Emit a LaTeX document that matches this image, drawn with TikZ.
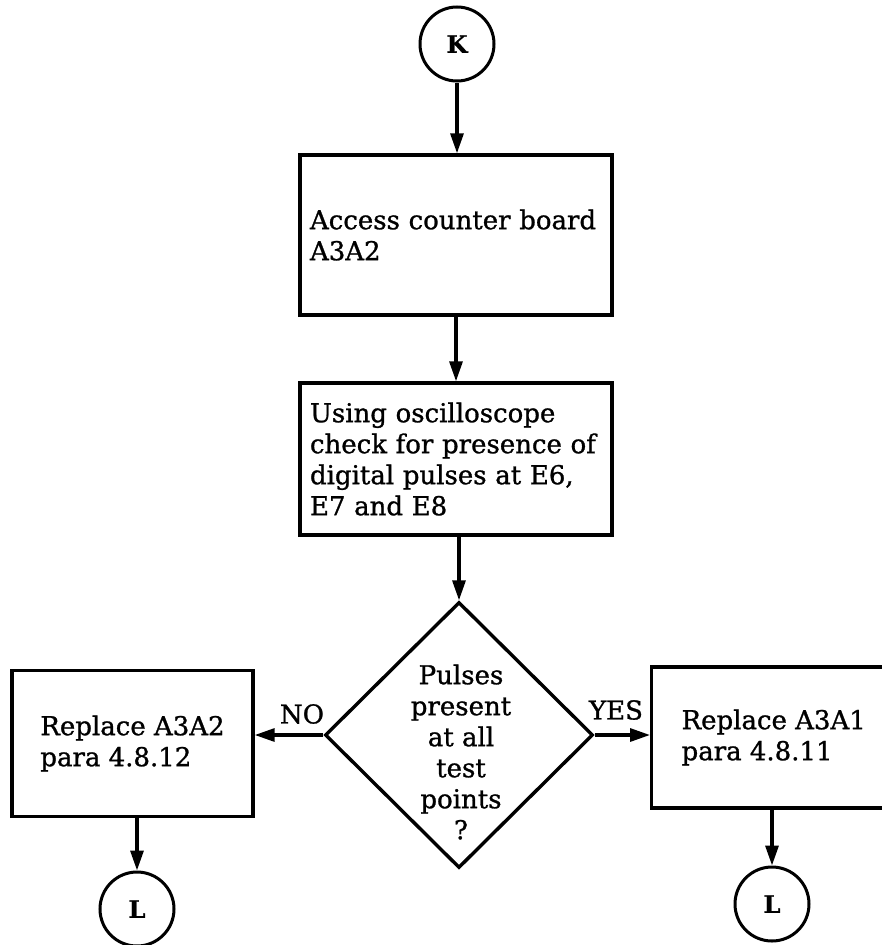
\documentclass[tikz,border=0pt]{standalone}
\usepackage{fontspec}
\setmainfont{DejaVu Serif}[FakeBold=1]
\usetikzlibrary{arrows.meta,shapes.geometric}
\begin{document}
\begin{tikzpicture}[x=1pt,y=-1pt,
  line width=3.4pt,
  txt/.style={font=\fontsize{26}{31}\selectfont},
  box/.style={draw,txt,align=left,inner sep=0pt},
  conn/.style={draw,line width=3.2pt,-{Triangle[length=20pt,width=13pt]}},
  term/.style={draw,circle,line width=3pt,minimum size=74pt,inner sep=0pt,font=\fontsize{24}{24}\selectfont\bfseries},
  lbl/.style={txt,inner sep=0pt}]
\useasboundingbox (0,0) rectangle (882,945);
\clip (0,0) rectangle (882,945);

\node[term] (k) at (457,44) {K};
\node[box,minimum width=312pt,minimum height=160pt,text width=292pt] (b1) at (456,235) {Access counter board\\A3A2};
\node[box,minimum width=312pt,minimum height=152pt,text width=292pt] (b2) at (456,459) {Using oscilloscope\\check for presence of\\digital pulses at E6,\\E7 and E8};
\node[draw,diamond,minimum width=268pt,minimum height=266pt,inner sep=0pt] (dec) at (459,735) {};
\node[txt,align=center,inner sep=0pt] (dtxt) at (461,752) {Pulses\\present\\at all\\test\\points\\?};
\node[box,minimum width=241pt,minimum height=146pt] (nb) at (132.5,743.5) {Replace A3A2\\para 4.8.12};
\node[box,minimum width=244pt,minimum height=141pt,anchor=west] (yb) at (650,737.5) {Replace A3A1\\para 4.8.11};
\node[term] (l1) at (137,909) {L};
\node[term] (l2) at (772,904) {L};
\node[lbl] (no) at (302,714) {NO};
\node[lbl] (yes) at (616,710) {YES};

\draw[conn] (k.south) -- (k.south |- b1.north);
\draw[conn] (b1.south) -- (b2.north);
\draw[conn] (b2.south -| dec.north) -- (dec.north);
\draw[conn] (dec.west) -- (dec.west -| nb.east);
\draw[conn] (dec.east) -- (dec.east -| yb.west);
\draw[conn] (nb.south -| l1) -- (l1.north);
\draw[conn] (yb.south -| l2) -- (l2.north);
\end{tikzpicture}
\end{document}
